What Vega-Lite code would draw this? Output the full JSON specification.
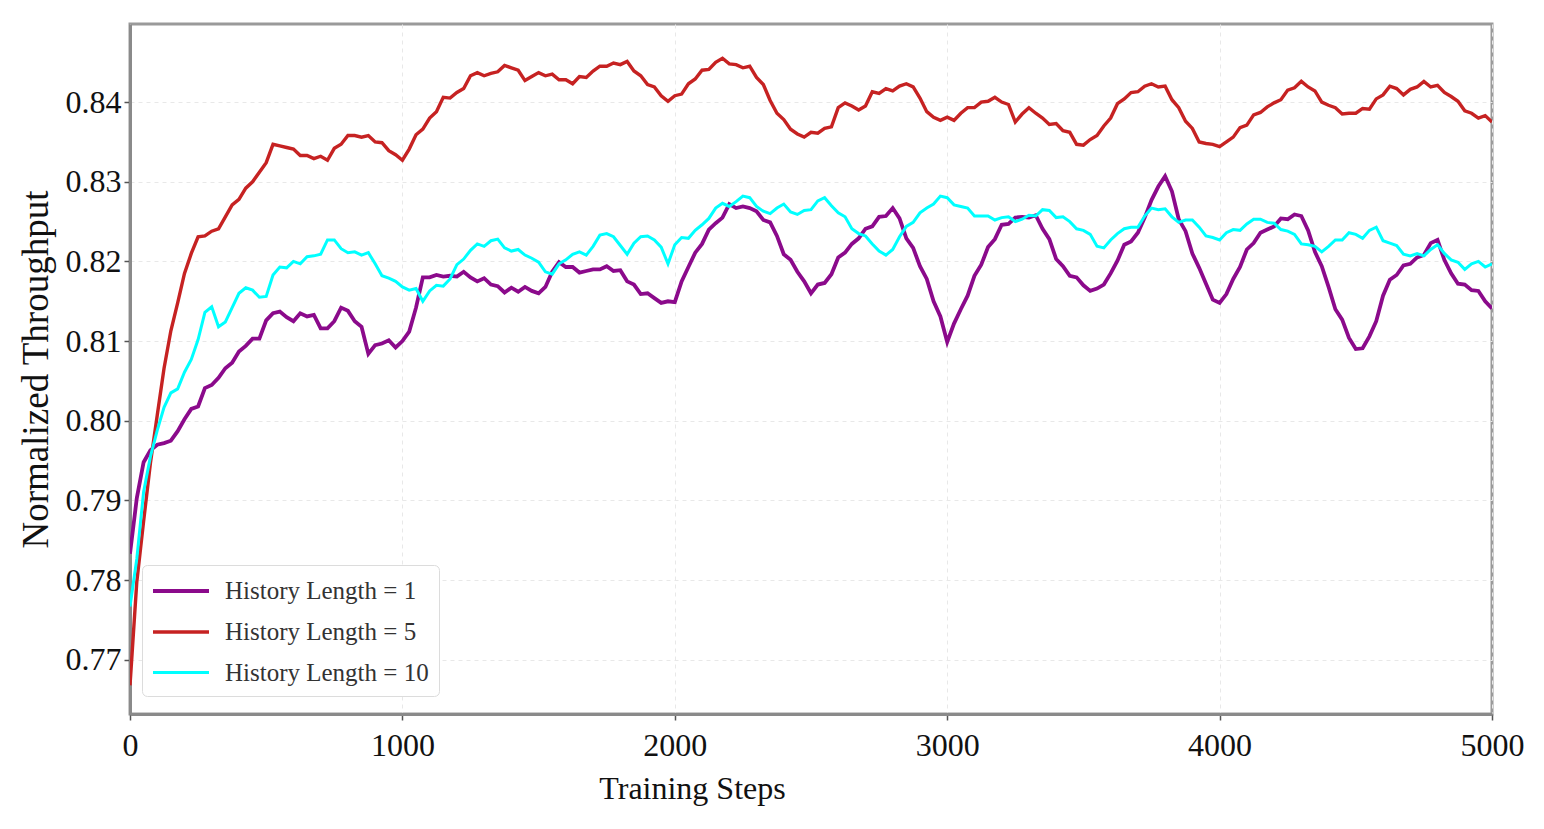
{
"$schema": "https://vega.github.io/schema/vega-lite/v6.json",
"width": 1362, "height": 690,
"autosize": {"type": "none"},
"padding": {"left": 130, "top": 24, "right": 52, "bottom": 115},
"background": "white",
"config": {
  "font": "Liberation Serif",
  "view": {"stroke": "#9a9a9a", "strokeWidth": 3},
  "axis": {
    "domainColor": "#8a8a8a", "domainWidth": 3,
    "tickColor": "#555555", "tickSize": 6, "tickWidth": 1.5,
    "labelFont": "Liberation Serif", "labelFontSize": 32, "labelColor": "#111111",
    "titleFont": "Liberation Serif", "titleFontWeight": "normal", "titleColor": "#111111",
    "gridColor": "#e8e8e8", "gridDash": [4, 4], "gridWidth": 1
  }
},
"data": {"values": [
{"s":0,"k":"1","v":0.7833},{"s":25,"k":"1","v":0.7903},{"s":50,"k":"1","v":0.7948},{"s":75,"k":"1","v":0.7963},{"s":100,"k":"1","v":0.7970},{"s":125,"k":"1","v":0.7972},{"s":150,"k":"1","v":0.7975},{"s":175,"k":"1","v":0.7987},{"s":200,"k":"1","v":0.8002},{"s":225,"k":"1","v":0.8015},
{"s":250,"k":"1","v":0.8018},{"s":275,"k":"1","v":0.8041},{"s":300,"k":"1","v":0.8045},{"s":325,"k":"1","v":0.8054},{"s":350,"k":"1","v":0.8066},{"s":375,"k":"1","v":0.8073},{"s":400,"k":"1","v":0.8087},{"s":425,"k":"1","v":0.8094},{"s":450,"k":"1","v":0.8103},{"s":475,"k":"1","v":0.8103},
{"s":500,"k":"1","v":0.8126},{"s":525,"k":"1","v":0.8135},{"s":550,"k":"1","v":0.8137},{"s":575,"k":"1","v":0.8130},{"s":600,"k":"1","v":0.8125},{"s":625,"k":"1","v":0.8135},{"s":650,"k":"1","v":0.8131},{"s":675,"k":"1","v":0.8133},{"s":700,"k":"1","v":0.8116},{"s":725,"k":"1","v":0.8116},
{"s":750,"k":"1","v":0.8125},{"s":775,"k":"1","v":0.8142},{"s":800,"k":"1","v":0.8138},{"s":825,"k":"1","v":0.8125},{"s":850,"k":"1","v":0.8118},{"s":875,"k":"1","v":0.8084},{"s":900,"k":"1","v":0.8095},{"s":925,"k":"1","v":0.8097},{"s":950,"k":"1","v":0.8101},{"s":975,"k":"1","v":0.8092},
{"s":1000,"k":"1","v":0.8100},{"s":1025,"k":"1","v":0.8112},{"s":1050,"k":"1","v":0.8142},{"s":1075,"k":"1","v":0.8180},{"s":1100,"k":"1","v":0.8180},{"s":1125,"k":"1","v":0.8183},{"s":1150,"k":"1","v":0.8181},{"s":1175,"k":"1","v":0.8182},{"s":1200,"k":"1","v":0.8181},{"s":1225,"k":"1","v":0.8187},
{"s":1250,"k":"1","v":0.8180},{"s":1275,"k":"1","v":0.8175},{"s":1300,"k":"1","v":0.8179},{"s":1325,"k":"1","v":0.8171},{"s":1350,"k":"1","v":0.8169},{"s":1375,"k":"1","v":0.8161},{"s":1400,"k":"1","v":0.8167},{"s":1425,"k":"1","v":0.8162},{"s":1450,"k":"1","v":0.8168},{"s":1475,"k":"1","v":0.8163},
{"s":1500,"k":"1","v":0.8160},{"s":1525,"k":"1","v":0.8168},{"s":1550,"k":"1","v":0.8187},{"s":1575,"k":"1","v":0.8199},{"s":1600,"k":"1","v":0.8193},{"s":1625,"k":"1","v":0.8193},{"s":1650,"k":"1","v":0.8186},{"s":1675,"k":"1","v":0.8188},{"s":1700,"k":"1","v":0.8190},{"s":1725,"k":"1","v":0.8190},
{"s":1750,"k":"1","v":0.8194},{"s":1775,"k":"1","v":0.8188},{"s":1800,"k":"1","v":0.8189},{"s":1825,"k":"1","v":0.8175},{"s":1850,"k":"1","v":0.8171},{"s":1875,"k":"1","v":0.8159},{"s":1900,"k":"1","v":0.8160},{"s":1925,"k":"1","v":0.8154},{"s":1950,"k":"1","v":0.8148},{"s":1975,"k":"1","v":0.8150},
{"s":2000,"k":"1","v":0.8149},{"s":2025,"k":"1","v":0.8175},{"s":2050,"k":"1","v":0.8193},{"s":2075,"k":"1","v":0.8211},{"s":2100,"k":"1","v":0.8222},{"s":2125,"k":"1","v":0.8240},{"s":2150,"k":"1","v":0.8248},{"s":2175,"k":"1","v":0.8255},{"s":2200,"k":"1","v":0.8272},{"s":2225,"k":"1","v":0.8267},
{"s":2250,"k":"1","v":0.8269},{"s":2275,"k":"1","v":0.8267},{"s":2300,"k":"1","v":0.8263},{"s":2325,"k":"1","v":0.8252},{"s":2350,"k":"1","v":0.8249},{"s":2375,"k":"1","v":0.8232},{"s":2400,"k":"1","v":0.8209},{"s":2425,"k":"1","v":0.8202},{"s":2450,"k":"1","v":0.8187},{"s":2475,"k":"1","v":0.8175},
{"s":2500,"k":"1","v":0.8160},{"s":2525,"k":"1","v":0.8171},{"s":2550,"k":"1","v":0.8173},{"s":2575,"k":"1","v":0.8184},{"s":2600,"k":"1","v":0.8205},{"s":2625,"k":"1","v":0.8211},{"s":2650,"k":"1","v":0.8222},{"s":2675,"k":"1","v":0.8229},{"s":2700,"k":"1","v":0.8241},{"s":2725,"k":"1","v":0.8244},
{"s":2750,"k":"1","v":0.8256},{"s":2775,"k":"1","v":0.8257},{"s":2800,"k":"1","v":0.8267},{"s":2825,"k":"1","v":0.8254},{"s":2850,"k":"1","v":0.8229},{"s":2875,"k":"1","v":0.8217},{"s":2900,"k":"1","v":0.8194},{"s":2925,"k":"1","v":0.8178},{"s":2950,"k":"1","v":0.8150},{"s":2975,"k":"1","v":0.8131},
{"s":3000,"k":"1","v":0.8099},{"s":3025,"k":"1","v":0.8122},{"s":3050,"k":"1","v":0.8140},{"s":3075,"k":"1","v":0.8157},{"s":3100,"k":"1","v":0.8182},{"s":3125,"k":"1","v":0.8196},{"s":3150,"k":"1","v":0.8218},{"s":3175,"k":"1","v":0.8228},{"s":3200,"k":"1","v":0.8246},{"s":3225,"k":"1","v":0.8247},
{"s":3250,"k":"1","v":0.8255},{"s":3275,"k":"1","v":0.8256},{"s":3300,"k":"1","v":0.8255},{"s":3325,"k":"1","v":0.8258},{"s":3350,"k":"1","v":0.8241},{"s":3375,"k":"1","v":0.8228},{"s":3400,"k":"1","v":0.8203},{"s":3425,"k":"1","v":0.8194},{"s":3450,"k":"1","v":0.8182},{"s":3475,"k":"1","v":0.8180},
{"s":3500,"k":"1","v":0.8170},{"s":3525,"k":"1","v":0.8163},{"s":3550,"k":"1","v":0.8166},{"s":3575,"k":"1","v":0.8171},{"s":3600,"k":"1","v":0.8185},{"s":3625,"k":"1","v":0.8201},{"s":3650,"k":"1","v":0.8221},{"s":3675,"k":"1","v":0.8225},{"s":3700,"k":"1","v":0.8236},{"s":3725,"k":"1","v":0.8255},
{"s":3750,"k":"1","v":0.8277},{"s":3775,"k":"1","v":0.8294},{"s":3800,"k":"1","v":0.8307},{"s":3825,"k":"1","v":0.8288},{"s":3850,"k":"1","v":0.8253},{"s":3875,"k":"1","v":0.8238},{"s":3900,"k":"1","v":0.8210},{"s":3925,"k":"1","v":0.8192},{"s":3950,"k":"1","v":0.8172},{"s":3975,"k":"1","v":0.8152},
{"s":4000,"k":"1","v":0.8148},{"s":4025,"k":"1","v":0.8159},{"s":4050,"k":"1","v":0.8178},{"s":4075,"k":"1","v":0.8193},{"s":4100,"k":"1","v":0.8215},{"s":4125,"k":"1","v":0.8223},{"s":4150,"k":"1","v":0.8236},{"s":4175,"k":"1","v":0.8240},{"s":4200,"k":"1","v":0.8244},{"s":4225,"k":"1","v":0.8254},
{"s":4250,"k":"1","v":0.8253},{"s":4275,"k":"1","v":0.8259},{"s":4300,"k":"1","v":0.8257},{"s":4325,"k":"1","v":0.8239},{"s":4350,"k":"1","v":0.8212},{"s":4375,"k":"1","v":0.8194},{"s":4400,"k":"1","v":0.8168},{"s":4425,"k":"1","v":0.8140},{"s":4450,"k":"1","v":0.8127},{"s":4475,"k":"1","v":0.8104},
{"s":4500,"k":"1","v":0.8090},{"s":4525,"k":"1","v":0.8091},{"s":4550,"k":"1","v":0.8106},{"s":4575,"k":"1","v":0.8125},{"s":4600,"k":"1","v":0.8157},{"s":4625,"k":"1","v":0.8177},{"s":4650,"k":"1","v":0.8183},{"s":4675,"k":"1","v":0.8195},{"s":4700,"k":"1","v":0.8197},{"s":4725,"k":"1","v":0.8205},
{"s":4750,"k":"1","v":0.8208},{"s":4775,"k":"1","v":0.8223},{"s":4800,"k":"1","v":0.8227},{"s":4825,"k":"1","v":0.8202},{"s":4850,"k":"1","v":0.8185},{"s":4875,"k":"1","v":0.8172},{"s":4900,"k":"1","v":0.8171},{"s":4925,"k":"1","v":0.8164},{"s":4950,"k":"1","v":0.8163},{"s":4975,"k":"1","v":0.8150},
{"s":5000,"k":"1","v":0.8141},
{"s":0,"k":"5","v":0.7668},{"s":25,"k":"5","v":0.7798},{"s":50,"k":"5","v":0.7874},{"s":75,"k":"5","v":0.7947},{"s":100,"k":"5","v":0.8007},{"s":125,"k":"5","v":0.8066},{"s":150,"k":"5","v":0.8113},{"s":175,"k":"5","v":0.8148},{"s":200,"k":"5","v":0.8185},{"s":225,"k":"5","v":0.8210},
{"s":250,"k":"5","v":0.8231},{"s":275,"k":"5","v":0.8232},{"s":300,"k":"5","v":0.8238},{"s":325,"k":"5","v":0.8241},{"s":350,"k":"5","v":0.8256},{"s":375,"k":"5","v":0.8271},{"s":400,"k":"5","v":0.8278},{"s":425,"k":"5","v":0.8292},{"s":450,"k":"5","v":0.8300},{"s":475,"k":"5","v":0.8312},
{"s":500,"k":"5","v":0.8324},{"s":525,"k":"5","v":0.8347},{"s":550,"k":"5","v":0.8345},{"s":575,"k":"5","v":0.8343},{"s":600,"k":"5","v":0.8341},{"s":625,"k":"5","v":0.8333},{"s":650,"k":"5","v":0.8333},{"s":675,"k":"5","v":0.8329},{"s":700,"k":"5","v":0.8332},{"s":725,"k":"5","v":0.8327},
{"s":750,"k":"5","v":0.8342},{"s":775,"k":"5","v":0.8347},{"s":800,"k":"5","v":0.8358},{"s":825,"k":"5","v":0.8358},{"s":850,"k":"5","v":0.8356},{"s":875,"k":"5","v":0.8358},{"s":900,"k":"5","v":0.8350},{"s":925,"k":"5","v":0.8349},{"s":950,"k":"5","v":0.8339},{"s":975,"k":"5","v":0.8334},
{"s":1000,"k":"5","v":0.8327},{"s":1025,"k":"5","v":0.8341},{"s":1050,"k":"5","v":0.8359},{"s":1075,"k":"5","v":0.8366},{"s":1100,"k":"5","v":0.8380},{"s":1125,"k":"5","v":0.8388},{"s":1150,"k":"5","v":0.8406},{"s":1175,"k":"5","v":0.8405},{"s":1200,"k":"5","v":0.8412},{"s":1225,"k":"5","v":0.8417},
{"s":1250,"k":"5","v":0.8433},{"s":1275,"k":"5","v":0.8437},{"s":1300,"k":"5","v":0.8433},{"s":1325,"k":"5","v":0.8436},{"s":1350,"k":"5","v":0.8438},{"s":1375,"k":"5","v":0.8446},{"s":1400,"k":"5","v":0.8443},{"s":1425,"k":"5","v":0.8440},{"s":1450,"k":"5","v":0.8427},{"s":1475,"k":"5","v":0.8432},
{"s":1500,"k":"5","v":0.8437},{"s":1525,"k":"5","v":0.8433},{"s":1550,"k":"5","v":0.8435},{"s":1575,"k":"5","v":0.8428},{"s":1600,"k":"5","v":0.8428},{"s":1625,"k":"5","v":0.8423},{"s":1650,"k":"5","v":0.8432},{"s":1675,"k":"5","v":0.8431},{"s":1700,"k":"5","v":0.8439},{"s":1725,"k":"5","v":0.8445},
{"s":1750,"k":"5","v":0.8445},{"s":1775,"k":"5","v":0.8449},{"s":1800,"k":"5","v":0.8447},{"s":1825,"k":"5","v":0.8451},{"s":1850,"k":"5","v":0.8439},{"s":1875,"k":"5","v":0.8433},{"s":1900,"k":"5","v":0.8422},{"s":1925,"k":"5","v":0.8419},{"s":1950,"k":"5","v":0.8408},{"s":1975,"k":"5","v":0.8401},
{"s":2000,"k":"5","v":0.8408},{"s":2025,"k":"5","v":0.8410},{"s":2050,"k":"5","v":0.8423},{"s":2075,"k":"5","v":0.8429},{"s":2100,"k":"5","v":0.8440},{"s":2125,"k":"5","v":0.8441},{"s":2150,"k":"5","v":0.8450},{"s":2175,"k":"5","v":0.8455},{"s":2200,"k":"5","v":0.8448},{"s":2225,"k":"5","v":0.8447},
{"s":2250,"k":"5","v":0.8443},{"s":2275,"k":"5","v":0.8445},{"s":2300,"k":"5","v":0.8431},{"s":2325,"k":"5","v":0.8422},{"s":2350,"k":"5","v":0.8402},{"s":2375,"k":"5","v":0.8386},{"s":2400,"k":"5","v":0.8378},{"s":2425,"k":"5","v":0.8366},{"s":2450,"k":"5","v":0.8360},{"s":2475,"k":"5","v":0.8356},
{"s":2500,"k":"5","v":0.8362},{"s":2525,"k":"5","v":0.8361},{"s":2550,"k":"5","v":0.8367},{"s":2575,"k":"5","v":0.8369},{"s":2600,"k":"5","v":0.8393},{"s":2625,"k":"5","v":0.8399},{"s":2650,"k":"5","v":0.8395},{"s":2675,"k":"5","v":0.8390},{"s":2700,"k":"5","v":0.8395},{"s":2725,"k":"5","v":0.8413},
{"s":2750,"k":"5","v":0.8411},{"s":2775,"k":"5","v":0.8417},{"s":2800,"k":"5","v":0.8414},{"s":2825,"k":"5","v":0.8420},{"s":2850,"k":"5","v":0.8423},{"s":2875,"k":"5","v":0.8419},{"s":2900,"k":"5","v":0.8405},{"s":2925,"k":"5","v":0.8388},{"s":2950,"k":"5","v":0.8381},{"s":2975,"k":"5","v":0.8377},
{"s":3000,"k":"5","v":0.8381},{"s":3025,"k":"5","v":0.8377},{"s":3050,"k":"5","v":0.8386},{"s":3075,"k":"5","v":0.8393},{"s":3100,"k":"5","v":0.8393},{"s":3125,"k":"5","v":0.8400},{"s":3150,"k":"5","v":0.8401},{"s":3175,"k":"5","v":0.8406},{"s":3200,"k":"5","v":0.8400},{"s":3225,"k":"5","v":0.8397},
{"s":3250,"k":"5","v":0.8375},{"s":3275,"k":"5","v":0.8385},{"s":3300,"k":"5","v":0.8393},{"s":3325,"k":"5","v":0.8386},{"s":3350,"k":"5","v":0.8380},{"s":3375,"k":"5","v":0.8372},{"s":3400,"k":"5","v":0.8373},{"s":3425,"k":"5","v":0.8364},{"s":3450,"k":"5","v":0.8362},{"s":3475,"k":"5","v":0.8347},
{"s":3500,"k":"5","v":0.8346},{"s":3525,"k":"5","v":0.8353},{"s":3550,"k":"5","v":0.8358},{"s":3575,"k":"5","v":0.8370},{"s":3600,"k":"5","v":0.8380},{"s":3625,"k":"5","v":0.8398},{"s":3650,"k":"5","v":0.8404},{"s":3675,"k":"5","v":0.8412},{"s":3700,"k":"5","v":0.8413},{"s":3725,"k":"5","v":0.8420},
{"s":3750,"k":"5","v":0.8423},{"s":3775,"k":"5","v":0.8419},{"s":3800,"k":"5","v":0.8420},{"s":3825,"k":"5","v":0.8403},{"s":3850,"k":"5","v":0.8393},{"s":3875,"k":"5","v":0.8376},{"s":3900,"k":"5","v":0.8367},{"s":3925,"k":"5","v":0.8350},{"s":3950,"k":"5","v":0.8348},{"s":3975,"k":"5","v":0.8347},
{"s":4000,"k":"5","v":0.8344},{"s":4025,"k":"5","v":0.8350},{"s":4050,"k":"5","v":0.8356},{"s":4075,"k":"5","v":0.8368},{"s":4100,"k":"5","v":0.8371},{"s":4125,"k":"5","v":0.8384},{"s":4150,"k":"5","v":0.8387},{"s":4175,"k":"5","v":0.8394},{"s":4200,"k":"5","v":0.8399},{"s":4225,"k":"5","v":0.8403},
{"s":4250,"k":"5","v":0.8415},{"s":4275,"k":"5","v":0.8418},{"s":4300,"k":"5","v":0.8426},{"s":4325,"k":"5","v":0.8419},{"s":4350,"k":"5","v":0.8414},{"s":4375,"k":"5","v":0.8400},{"s":4400,"k":"5","v":0.8396},{"s":4425,"k":"5","v":0.8393},{"s":4450,"k":"5","v":0.8385},{"s":4475,"k":"5","v":0.8386},
{"s":4500,"k":"5","v":0.8386},{"s":4525,"k":"5","v":0.8392},{"s":4550,"k":"5","v":0.8391},{"s":4575,"k":"5","v":0.8404},{"s":4600,"k":"5","v":0.8409},{"s":4625,"k":"5","v":0.8420},{"s":4650,"k":"5","v":0.8417},{"s":4675,"k":"5","v":0.8409},{"s":4700,"k":"5","v":0.8416},{"s":4725,"k":"5","v":0.8419},
{"s":4750,"k":"5","v":0.8426},{"s":4775,"k":"5","v":0.8419},{"s":4800,"k":"5","v":0.8421},{"s":4825,"k":"5","v":0.8412},{"s":4850,"k":"5","v":0.8407},{"s":4875,"k":"5","v":0.8401},{"s":4900,"k":"5","v":0.8389},{"s":4925,"k":"5","v":0.8386},{"s":4950,"k":"5","v":0.8380},{"s":4975,"k":"5","v":0.8383},
{"s":5000,"k":"5","v":0.8375},
{"s":0,"k":"10","v":0.7767},{"s":25,"k":"10","v":0.7827},{"s":50,"k":"10","v":0.7911},{"s":75,"k":"10","v":0.7955},{"s":100,"k":"10","v":0.7988},{"s":125,"k":"10","v":0.8017},{"s":150,"k":"10","v":0.8035},{"s":175,"k":"10","v":0.8040},{"s":200,"k":"10","v":0.8061},{"s":225,"k":"10","v":0.8077},
{"s":250,"k":"10","v":0.8102},{"s":275,"k":"10","v":0.8136},{"s":300,"k":"10","v":0.8143},{"s":325,"k":"10","v":0.8118},{"s":350,"k":"10","v":0.8124},{"s":375,"k":"10","v":0.8142},{"s":400,"k":"10","v":0.8160},{"s":425,"k":"10","v":0.8167},{"s":450,"k":"10","v":0.8164},{"s":475,"k":"10","v":0.8155},
{"s":500,"k":"10","v":0.8156},{"s":525,"k":"10","v":0.8183},{"s":550,"k":"10","v":0.8193},{"s":575,"k":"10","v":0.8192},{"s":600,"k":"10","v":0.8200},{"s":625,"k":"10","v":0.8197},{"s":650,"k":"10","v":0.8206},{"s":675,"k":"10","v":0.8207},{"s":700,"k":"10","v":0.8209},{"s":725,"k":"10","v":0.8227},
{"s":750,"k":"10","v":0.8227},{"s":775,"k":"10","v":0.8216},{"s":800,"k":"10","v":0.8211},{"s":825,"k":"10","v":0.8212},{"s":850,"k":"10","v":0.8208},{"s":875,"k":"10","v":0.8211},{"s":900,"k":"10","v":0.8197},{"s":925,"k":"10","v":0.8182},{"s":950,"k":"10","v":0.8179},{"s":975,"k":"10","v":0.8175},
{"s":1000,"k":"10","v":0.8168},{"s":1025,"k":"10","v":0.8164},{"s":1050,"k":"10","v":0.8166},{"s":1075,"k":"10","v":0.8150},{"s":1100,"k":"10","v":0.8163},{"s":1125,"k":"10","v":0.8170},{"s":1150,"k":"10","v":0.8169},{"s":1175,"k":"10","v":0.8178},{"s":1200,"k":"10","v":0.8196},{"s":1225,"k":"10","v":0.8203},
{"s":1250,"k":"10","v":0.8214},{"s":1275,"k":"10","v":0.8222},{"s":1300,"k":"10","v":0.8219},{"s":1325,"k":"10","v":0.8226},{"s":1350,"k":"10","v":0.8228},{"s":1375,"k":"10","v":0.8217},{"s":1400,"k":"10","v":0.8213},{"s":1425,"k":"10","v":0.8215},{"s":1450,"k":"10","v":0.8208},{"s":1475,"k":"10","v":0.8204},
{"s":1500,"k":"10","v":0.8199},{"s":1525,"k":"10","v":0.8187},{"s":1550,"k":"10","v":0.8184},{"s":1575,"k":"10","v":0.8197},{"s":1600,"k":"10","v":0.8202},{"s":1625,"k":"10","v":0.8209},{"s":1650,"k":"10","v":0.8212},{"s":1675,"k":"10","v":0.8208},{"s":1700,"k":"10","v":0.8219},{"s":1725,"k":"10","v":0.8233},
{"s":1750,"k":"10","v":0.8235},{"s":1775,"k":"10","v":0.8231},{"s":1800,"k":"10","v":0.8220},{"s":1825,"k":"10","v":0.8209},{"s":1850,"k":"10","v":0.8223},{"s":1875,"k":"10","v":0.8231},{"s":1900,"k":"10","v":0.8232},{"s":1925,"k":"10","v":0.8227},{"s":1950,"k":"10","v":0.8218},{"s":1975,"k":"10","v":0.8197},
{"s":2000,"k":"10","v":0.8221},{"s":2025,"k":"10","v":0.8230},{"s":2050,"k":"10","v":0.8229},{"s":2075,"k":"10","v":0.8239},{"s":2100,"k":"10","v":0.8246},{"s":2125,"k":"10","v":0.8254},{"s":2150,"k":"10","v":0.8267},{"s":2175,"k":"10","v":0.8273},{"s":2200,"k":"10","v":0.8269},{"s":2225,"k":"10","v":0.8275},
{"s":2250,"k":"10","v":0.8282},{"s":2275,"k":"10","v":0.8280},{"s":2300,"k":"10","v":0.8269},{"s":2325,"k":"10","v":0.8263},{"s":2350,"k":"10","v":0.8260},{"s":2375,"k":"10","v":0.8267},{"s":2400,"k":"10","v":0.8272},{"s":2425,"k":"10","v":0.8262},{"s":2450,"k":"10","v":0.8259},{"s":2475,"k":"10","v":0.8264},
{"s":2500,"k":"10","v":0.8265},{"s":2525,"k":"10","v":0.8276},{"s":2550,"k":"10","v":0.8280},{"s":2575,"k":"10","v":0.8270},{"s":2600,"k":"10","v":0.8261},{"s":2625,"k":"10","v":0.8256},{"s":2650,"k":"10","v":0.8241},{"s":2675,"k":"10","v":0.8235},{"s":2700,"k":"10","v":0.8232},{"s":2725,"k":"10","v":0.8222},
{"s":2750,"k":"10","v":0.8213},{"s":2775,"k":"10","v":0.8208},{"s":2800,"k":"10","v":0.8215},{"s":2825,"k":"10","v":0.8231},{"s":2850,"k":"10","v":0.8244},{"s":2875,"k":"10","v":0.8249},{"s":2900,"k":"10","v":0.8261},{"s":2925,"k":"10","v":0.8267},{"s":2950,"k":"10","v":0.8272},{"s":2975,"k":"10","v":0.8282},
{"s":3000,"k":"10","v":0.8280},{"s":3025,"k":"10","v":0.8271},{"s":3050,"k":"10","v":0.8269},{"s":3075,"k":"10","v":0.8267},{"s":3100,"k":"10","v":0.8257},{"s":3125,"k":"10","v":0.8257},{"s":3150,"k":"10","v":0.8257},{"s":3175,"k":"10","v":0.8252},{"s":3200,"k":"10","v":0.8255},{"s":3225,"k":"10","v":0.8256},
{"s":3250,"k":"10","v":0.8250},{"s":3275,"k":"10","v":0.8253},{"s":3300,"k":"10","v":0.8258},{"s":3325,"k":"10","v":0.8257},{"s":3350,"k":"10","v":0.8265},{"s":3375,"k":"10","v":0.8264},{"s":3400,"k":"10","v":0.8255},{"s":3425,"k":"10","v":0.8256},{"s":3450,"k":"10","v":0.8250},{"s":3475,"k":"10","v":0.8241},
{"s":3500,"k":"10","v":0.8239},{"s":3525,"k":"10","v":0.8234},{"s":3550,"k":"10","v":0.8219},{"s":3575,"k":"10","v":0.8217},{"s":3600,"k":"10","v":0.8227},{"s":3625,"k":"10","v":0.8235},{"s":3650,"k":"10","v":0.8241},{"s":3675,"k":"10","v":0.8243},{"s":3700,"k":"10","v":0.8243},{"s":3725,"k":"10","v":0.8257},
{"s":3750,"k":"10","v":0.8267},{"s":3775,"k":"10","v":0.8265},{"s":3800,"k":"10","v":0.8266},{"s":3825,"k":"10","v":0.8256},{"s":3850,"k":"10","v":0.8249},{"s":3875,"k":"10","v":0.8252},{"s":3900,"k":"10","v":0.8252},{"s":3925,"k":"10","v":0.8243},{"s":3950,"k":"10","v":0.8232},{"s":3975,"k":"10","v":0.8230},
{"s":4000,"k":"10","v":0.8227},{"s":4025,"k":"10","v":0.8236},{"s":4050,"k":"10","v":0.8240},{"s":4075,"k":"10","v":0.8239},{"s":4100,"k":"10","v":0.8247},{"s":4125,"k":"10","v":0.8253},{"s":4150,"k":"10","v":0.8253},{"s":4175,"k":"10","v":0.8249},{"s":4200,"k":"10","v":0.8248},{"s":4225,"k":"10","v":0.8240},
{"s":4250,"k":"10","v":0.8238},{"s":4275,"k":"10","v":0.8234},{"s":4300,"k":"10","v":0.8222},{"s":4325,"k":"10","v":0.8221},{"s":4350,"k":"10","v":0.8219},{"s":4375,"k":"10","v":0.8212},{"s":4400,"k":"10","v":0.8219},{"s":4425,"k":"10","v":0.8227},{"s":4450,"k":"10","v":0.8227},{"s":4475,"k":"10","v":0.8236},
{"s":4500,"k":"10","v":0.8234},{"s":4525,"k":"10","v":0.8229},{"s":4550,"k":"10","v":0.8239},{"s":4575,"k":"10","v":0.8243},{"s":4600,"k":"10","v":0.8226},{"s":4625,"k":"10","v":0.8223},{"s":4650,"k":"10","v":0.8220},{"s":4675,"k":"10","v":0.8209},{"s":4700,"k":"10","v":0.8207},{"s":4725,"k":"10","v":0.8210},
{"s":4750,"k":"10","v":0.8207},{"s":4775,"k":"10","v":0.8215},{"s":4800,"k":"10","v":0.8221},{"s":4825,"k":"10","v":0.8210},{"s":4850,"k":"10","v":0.8202},{"s":4875,"k":"10","v":0.8199},{"s":4900,"k":"10","v":0.8190},{"s":4925,"k":"10","v":0.8197},{"s":4950,"k":"10","v":0.8200},{"s":4975,"k":"10","v":0.8193},
{"s":5000,"k":"10","v":0.8197}
]},
"mark": {"type": "line", "interpolate": "linear", "clip": true},
"encoding": {
  "x": {"field": "s", "type": "quantitative",
    "scale": {"domain": [0, 5000], "nice": false, "zero": false},
    "axis": {"values": [0, 1000, 2000, 3000, 4000, 5000], "format": "d", "title": "Training Steps",
      "titleFontSize": 32, "labelPadding": 10, "labelFlush": false,
      "titleX": 562, "titleY": 84, "titleBaseline": "alphabetic", "titleAlign": "center"}},
  "y": {"field": "v", "type": "quantitative",
    "scale": {"domain": [0.7632, 0.8498], "nice": false, "zero": false},
    "axis": {"values": [0.77, 0.78, 0.79, 0.8, 0.81, 0.82, 0.83, 0.84], "format": ".2f", "title": "Normalized Throughput",
      "titleFontSize": 37, "labelPadding": 3, "labelFlush": false,
      "titleX": -94, "titleY": 345, "titleAngle": -90, "titleBaseline": "middle", "titleAlign": "center"}},
  "color": {"field": "k", "type": "nominal",
    "scale": {"domain": ["1", "5", "10"], "range": ["#8b0a8b", "#c62222", "#00ffff"]},
    "legend": {"orient": "none", "legendX": 12, "legendY": 541, "title": null, "direction": "vertical",
      "padding": 10, "strokeColor": "#dcdcdc", "fillColor": "white", "cornerRadius": 5,
      "symbolType": "M-2,0H2", "symbolSize": 784, "symbolStrokeWidth": 4, "symbolOffset": 13,
      "labelOffset": 28, "labelLimit": 400, "labelFont": "Liberation Serif", "labelFontSize": 25, "labelColor": "#333333",
      "rowPadding": 12, "labelExpr": "'History Length = ' + datum.label"}},
  "strokeWidth": {"field": "k", "type": "nominal",
    "scale": {"domain": ["1", "5", "10"], "range": [3.8, 3, 5.5]}, "legend": null}
}
}
